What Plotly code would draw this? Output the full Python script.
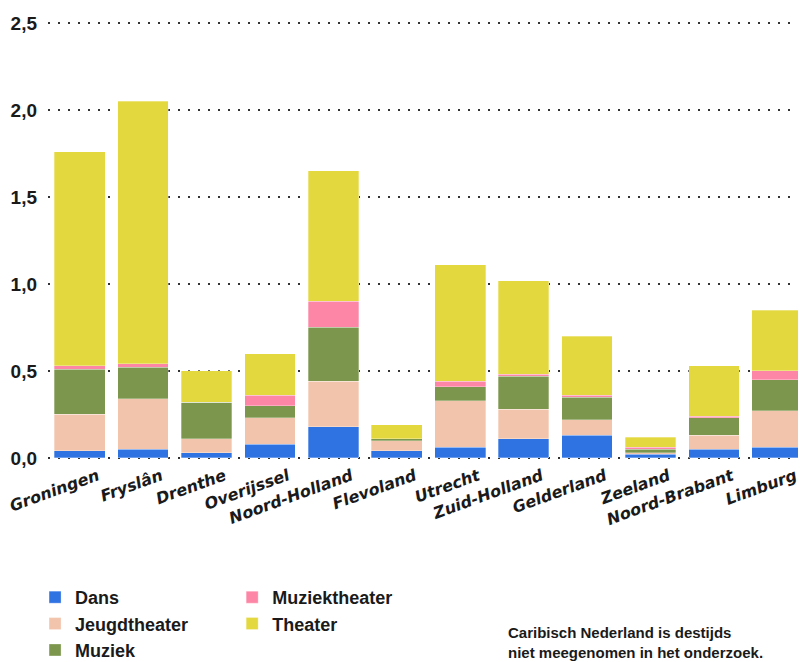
import plotly.graph_objects as go

provinces = ["Groningen", "Fryslân", "Drenthe", "Overijssel", "Noord-Holland", "Flevoland",
             "Utrecht", "Zuid-Holland", "Gelderland", "Zeeland", "Noord-Brabant", "Limburg"]

dans          = [0.04, 0.05, 0.03, 0.08, 0.18, 0.04, 0.06, 0.11, 0.13, 0.02, 0.05, 0.06]
jeugdtheater  = [0.21, 0.29, 0.08, 0.15, 0.26, 0.06, 0.27, 0.17, 0.09, 0.01, 0.08, 0.21]
muziek        = [0.26, 0.18, 0.21, 0.07, 0.31, 0.01, 0.08, 0.19, 0.13, 0.02, 0.10, 0.18]
muziektheater = [0.02, 0.02, 0.00, 0.06, 0.15, 0.00, 0.03, 0.01, 0.01, 0.01, 0.01, 0.05]
theater       = [1.23, 1.51, 0.18, 0.24, 0.75, 0.08, 0.67, 0.54, 0.34, 0.06, 0.29, 0.35]

y_ticks = [0, 0.5, 1.0, 1.5, 2.0, 2.5]

series = [
    ("Dans", dans, "#2f72e2", "legend"),
    ("Jeugdtheater", jeugdtheater, "#f2c4ac", "legend"),
    ("Muziek", muziek, "#7c974d", "legend"),
    ("Muziektheater", muziektheater, "#fd86a6", "legend2"),
    ("Theater", theater, "#e4d83f", "legend2"),
]

fig = go.Figure()
for name, vals, color, leg in series:
    fig.add_trace(go.Bar(
        x=provinces, y=vals, name=name, legend=leg,
        marker=dict(color=color, line=dict(color="rgba(255,255,255,0.6)", width=0.5)),
    ))

legend_font = dict(family="Liberation Sans", size=18, color="#1a1a1a", weight="bold")

fig.update_layout(
    width=806, height=662,
    barmode="stack", bargap=0.2,
    plot_bgcolor="white", paper_bgcolor="white",
    margin=dict(l=40, r=5, t=13, b=210, autoexpand=False),
    separators=",.",
    legend=dict(x=-0.017, y=-0.271, xanchor="left", yanchor="top", traceorder="normal",
                font=legend_font, bgcolor="rgba(0,0,0,0)", tracegroupgap=0),
    legend2=dict(x=0.242, y=-0.271, xanchor="left", yanchor="top", traceorder="normal",
                 font=legend_font, bgcolor="rgba(0,0,0,0)", tracegroupgap=0),
    annotations=[dict(
        x=0.602, y=-0.369, xref="paper", yref="paper", xanchor="left", yanchor="top",
        align="left", showarrow=False,
        text="Caribisch Nederland is destijds<br>niet meegenomen in het onderzoek.",
        font=dict(family="Liberation Sans", size=15, color="#1a1a1a", weight="bold"),
    )],
)

fig.update_yaxes(
    range=[-0.012, 2.512], tickvals=y_ticks, tickformat=".1f", automargin=False,
    showgrid=True, gridcolor="#333333", gridwidth=2, griddash="2px,8px",
    zeroline=False, showline=False, ticks="", ticklabelstandoff=10,
    tickfont=dict(family="Liberation Sans", size=19, color="#1a1a1a", weight="bold"),
)
fig.update_xaxes(
    tickangle=-20, showgrid=False, showline=False, ticks="", automargin=False,
    ticklabelstandoff=3, ticklabelshift=18,
    tickfont=dict(family="DejaVu Sans", size=16, color="#1a1a1a", weight="bold", style="italic"),
)

fig.write_html("out.html")
